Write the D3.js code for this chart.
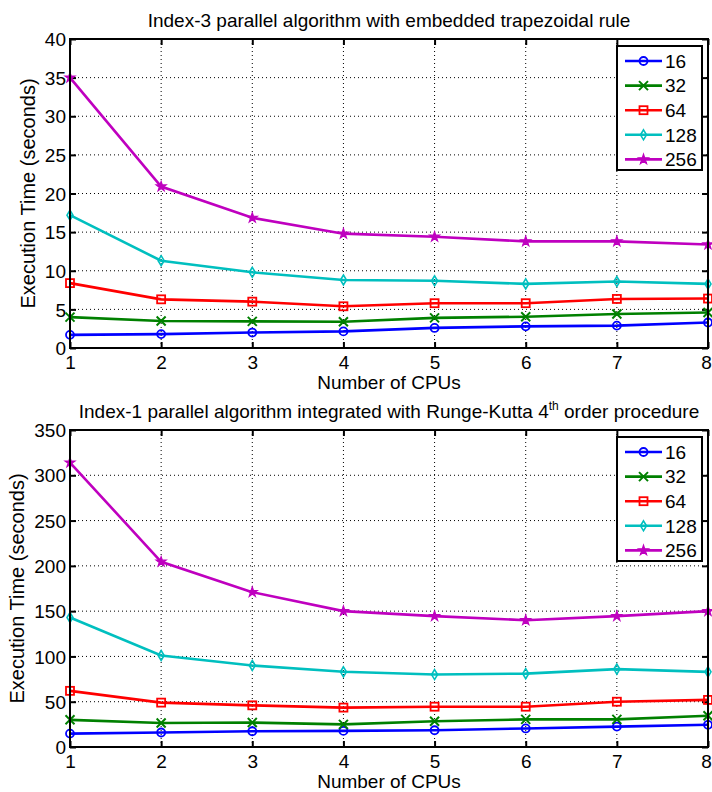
<!DOCTYPE html>
<html>
<head>
<meta charset="utf-8">
<script src="https://cdn.jsdelivr.net/npm/d3@7"></script>
<style>
  body { margin: 0; background: #fff; }
  svg text { font-family: "Liberation Sans", Arial, sans-serif; fill: #000; }
</style>
</head>
<body>
<div id="chart"></div>
<script>
// CPU counts on the x axis
var cpus = [1, 2, 3, 4, 5, 6, 7, 8];
var sizeLabels = ["16", "32", "64", "128", "256"];
var colors = ["#0000ff", "#008000", "#ff0000", "#00bfbf", "#bf00bf"];

// Index-3 panel (seconds)
var idx3_16 = [1.7, 1.8, 2.0, 2.15, 2.6, 2.8, 2.9, 3.3];
var idx3_32 = [4.0, 3.5, 3.45, 3.4, 3.9, 4.05, 4.4, 4.6];
var idx3_64 = [8.4, 6.3, 6.0, 5.4, 5.8, 5.8, 6.35, 6.4];
var idx3_128 = [17.2, 11.3, 9.8, 8.8, 8.7, 8.3, 8.6, 8.3];
var idx3_256 = [35.0, 20.9, 16.85, 14.8, 14.4, 13.8, 13.8, 13.4];

// Index-1 panel (seconds)
var idx1_16 = [14.8, 16, 17.4, 17.8, 18.5, 20.5, 22.5, 24.5];
var idx1_32 = [30, 26.5, 27, 25, 28.5, 30.5, 30.5, 34.5];
var idx1_64 = [62, 49, 46, 43.5, 44.5, 44.5, 50, 52];
var idx1_128 = [143, 101, 90, 83, 80, 81, 86, 83];
var idx1_256 = [314, 204.5, 171, 150, 144.5, 140, 144.5, 150];

// tick values
var topYTicks = [0, 5, 10, 15, 20, 25, 30, 35, 40];
var bottomYTicks = [0, 50, 100, 150, 200, 250, 300, 350];

var width = 712;
var height = 792;
var plotLeft = 70;
var plotRight = 708;
var fontSize = 19;

var svg = d3
  .select("#chart")
  .append("svg")
  .attr("width", width)
  .attr("height", height);

// marker drawing per series
function drawMarker(g, i, cx, cy) {
  var c = colors[i];
  if (i === 0) {
    g.append("circle").attr("cx", cx).attr("cy", cy).attr("r", 4)
      .attr("fill", "none").attr("stroke", c).attr("stroke-width", 1.8);
  } else if (i === 1) {
    var s = 4.5;
    g.append("path")
      .attr("d", "M" + (cx - s) + "," + (cy - s) + "L" + (cx + s) + "," + (cy + s) +
        "M" + (cx - s) + "," + (cy + s) + "L" + (cx + s) + "," + (cy - s))
      .attr("stroke", c).attr("stroke-width", 2).attr("fill", "none");
  } else if (i === 2) {
    g.append("rect").attr("x", cx - 4).attr("y", cy - 4).attr("width", 8).attr("height", 8)
      .attr("fill", "none").attr("stroke", c).attr("stroke-width", 1.8);
  } else if (i === 3) {
    g.append("path")
      .attr("d", "M" + cx + "," + (cy - 5) + "L" + (cx + 3) + "," + cy + "L" + cx + "," + (cy + 5) +
        "L" + (cx - 3) + "," + cy + "Z")
      .attr("fill", "none").attr("stroke", c).attr("stroke-width", 1.6);
  } else {
    g.append("path")
      .attr("d", d3.symbol().type(d3.symbolStar).size(30)())
      .attr("transform", "translate(" + cx + "," + cy + ")")
      .attr("fill", c).attr("stroke", c).attr("stroke-width", 1.2);
  }
}

function drawPanel(cfg) {
  var top = cfg.top;
  var bottom = cfg.bottom;

  var xScale = d3.scaleLinear().domain([1, 8]).range([plotLeft, plotRight]);
  var yScale = d3.scaleLinear().domain([0, cfg.yMax]).range([bottom, top]);

  var panel = svg.append("g");

  // dotted grid
  var grid = panel.append("g");
  cpus.slice(1, cpus.length - 1).forEach(function (v) {
    grid.append("line")
      .attr("x1", xScale(v)).attr("x2", xScale(v))
      .attr("y1", top).attr("y2", bottom)
      .attr("stroke", "#000").attr("stroke-width", 1)
      .attr("stroke-dasharray", "1,3");
  });
  cfg.yTicks.slice(1, cfg.yTicks.length - 1).forEach(function (v) {
    grid.append("line")
      .attr("x1", plotLeft).attr("x2", plotRight)
      .attr("y1", yScale(v)).attr("y2", yScale(v))
      .attr("stroke", "#000").attr("stroke-width", 1)
      .attr("stroke-dasharray", "1,3");
  });

  // axes with inward ticks on all four sides
  var xAxis = panel.append("g")
    .attr("transform", "translate(0," + bottom + ")")
    .call(d3.axisBottom(xScale).tickValues(cpus).tickSize(-6).tickFormat(d3.format("d")));
  xAxis.selectAll("text").attr("y", 21).attr("dy", 0).style("font-size", fontSize + "px");
  // keep the last label inside the page edge
  xAxis.selectAll("text").filter(function (d) { return d === 8; }).attr("x", -2);

  var yAxis = panel.append("g")
    .attr("transform", "translate(" + plotLeft + ",0)")
    .call(d3.axisLeft(yScale).tickValues(cfg.yTicks).tickSize(-6).tickFormat(d3.format("d")));
  yAxis.selectAll("text").attr("x", -4).attr("dy", "0.35em").style("font-size", fontSize + "px");

  panel.append("g")
    .attr("transform", "translate(0," + top + ")")
    .call(d3.axisTop(xScale).tickValues(cpus).tickSize(-6).tickFormat(""));
  panel.append("g")
    .attr("transform", "translate(" + plotRight + ",0)")
    .call(d3.axisRight(yScale).tickValues(cfg.yTicks).tickSize(-6).tickFormat(""));

  panel.selectAll(".domain").remove();
  panel.selectAll(".tick line").attr("stroke", "#000").attr("stroke-width", 2);

  // series lines
  var line = d3.line()
    .x(function (d, j) { return xScale(cpus[j]); })
    .y(function (d) { return yScale(d); });

  cfg.series.forEach(function (vals, i) {
    panel.append("path")
      .datum(vals)
      .attr("d", line)
      .attr("fill", "none")
      .attr("stroke", colors[i])
      .attr("stroke-width", 2.6);
    var mk = panel.append("g");
    vals.forEach(function (v, j) {
      drawMarker(mk, i, xScale(cpus[j]), yScale(v));
    });
  });

  // plot box
  panel.append("rect")
    .attr("x", plotLeft).attr("y", top)
    .attr("width", plotRight - plotLeft).attr("height", bottom - top)
    .attr("fill", "none").attr("stroke", "#000").attr("stroke-width", 2);

  // legend
  var lg = panel.append("g");
  lg.append("rect")
    .attr("x", 617).attr("y", cfg.legendTop)
    .attr("width", 85).attr("height", 124)
    .attr("fill", "#fff").attr("stroke", "#000").attr("stroke-width", 2);
  sizeLabels.forEach(function (lbl, i) {
    var ly = cfg.legendTop + 15 + i * 24.6;
    lg.append("line")
      .attr("x1", 625).attr("x2", 662).attr("y1", ly).attr("y2", ly)
      .attr("stroke", colors[i]).attr("stroke-width", 2.6);
    drawMarker(lg, i, 643.5, ly);
    lg.append("text")
      .attr("x", 665).attr("y", ly).attr("dy", "0.36em")
      .style("font-size", fontSize + "px")
      .text(lbl);
  });

  // title
  var title = panel.append("text")
    .attr("x", (plotLeft + plotRight) / 2).attr("y", top - 12)
    .attr("text-anchor", "middle")
    .style("font-size", fontSize + "px");
  cfg.title(title);

  // axis labels
  panel.append("text")
    .attr("x", (plotLeft + plotRight) / 2).attr("y", bottom + 41)
    .attr("text-anchor", "middle")
    .style("font-size", fontSize + "px")
    .text("Number of CPUs");

  panel.append("text")
    .attr("transform", "translate(" + cfg.yLabelX + "," + (top + bottom) / 2 + ")rotate(-90)")
    .attr("text-anchor", "middle")
    .style("font-size", (fontSize + 1) + "px")
    .text("Execution Time (seconds)");
}

drawPanel({
  top: 39,
  bottom: 348,
  yMax: 40,
  yTicks: topYTicks,
  legendTop: 46,
  yLabelX: 35,
  series: [idx3_16, idx3_32, idx3_64, idx3_128, idx3_256],
  title: function (t) {
    t.text("Index-3 parallel algorithm with embedded trapezoidal rule");
  }
});

drawPanel({
  top: 430,
  bottom: 747,
  yMax: 350,
  yTicks: bottomYTicks,
  legendTop: 437,
  yLabelX: 24,
  series: [idx1_16, idx1_32, idx1_64, idx1_128, idx1_256],
  title: function (t) {
    t.append("tspan").text("Index-1 parallel algorithm integrated with Runge-Kutta 4");
    t.append("tspan").attr("dy", -8).style("font-size", "12px").text("th");
    t.append("tspan").attr("dy", 8).text(" order procedure");
  }
});
</script>
</body>
</html>
